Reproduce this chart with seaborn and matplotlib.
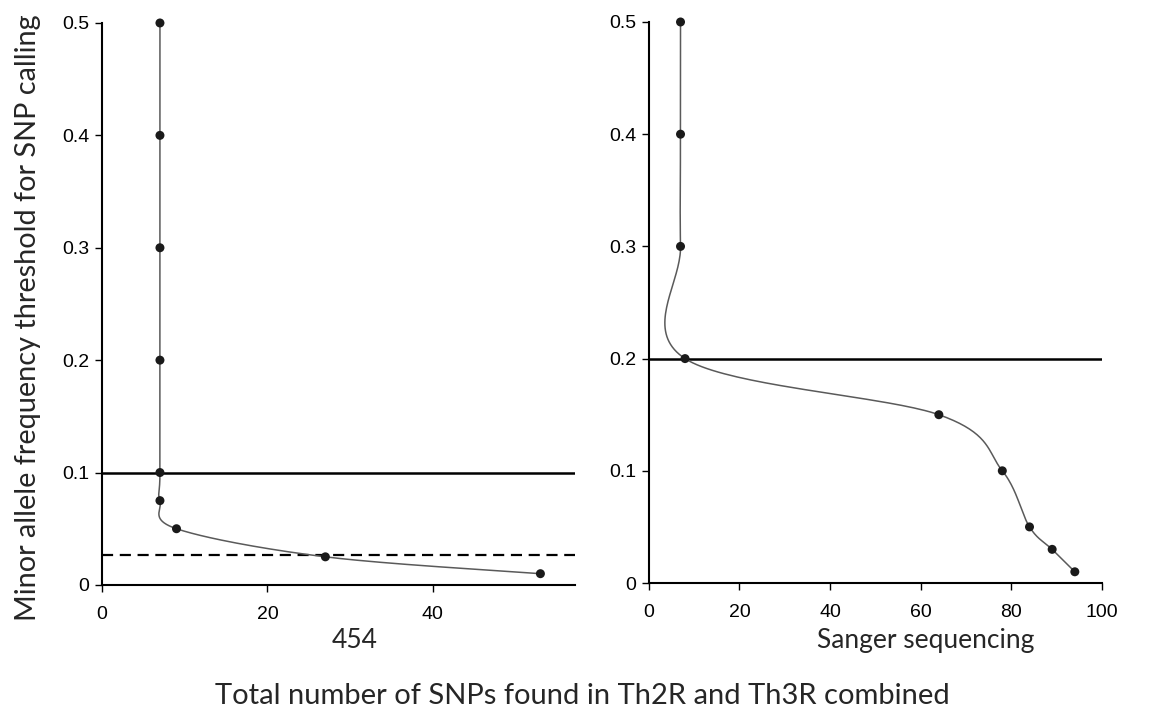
import numpy as np
import matplotlib
matplotlib.use("Agg")
import matplotlib.pyplot as plt
import seaborn as sns

# ---- data ----
left_x = [7, 7, 7, 7, 7, 7, 9, 27, 53]
left_y = [0.5, 0.4, 0.3, 0.2, 0.1, 0.075, 0.05, 0.025, 0.01]
left_hlines = [0.1]
left_dashed = [0.027]
right_x = [7, 7, 7, 8, 64, 78, 84, 89, 94]
right_y = [0.5, 0.4, 0.3, 0.2, 0.15, 0.1, 0.05, 0.03, 0.01]
right_hlines = [0.2]
yticks = [0, 0.1, 0.2, 0.3, 0.4, 0.5]
ytick_labels = ["0", "0.1", "0.2", "0.3", "0.4", "0.5"]
left_xticks = [0, 20, 40]
right_xticks = [0, 20, 40, 60, 80, 100]
left_sub = "454"
right_sub = "Sanger sequencing"
ylabel = "Minor allele frequency threshold for SNP calling"
xlabel = "Total number of SNPs found in Th2R and Th3R combined"

sns.set_style("ticks")
plt.rcParams['font.family'] = ['Liberation Sans', 'DejaVu Sans']

fig = plt.figure(figsize=(11.69, 7.09), dpi=100)
axL = fig.add_axes([0.0873, 0.175, 0.4047, 0.7926])
axR = fig.add_axes([0.555, 0.1777, 0.3877, 0.7913])


def smooth(ax, xs, ys, n=40):
    pts = ax.transData.transform(np.column_stack([xs, ys]))
    out = [pts[0]]
    m = len(pts)
    for i in range(m - 1):
        p0 = pts[i - 1] if i > 0 else pts[i]
        p1 = pts[i]
        p2 = pts[i + 1]
        p3 = pts[i + 2] if i + 2 < m else pts[i + 1]
        c1 = p1 + (p2 - p0) / 6.0
        c2 = p2 - (p3 - p1) / 6.0
        t = np.linspace(0, 1, n)[1:, None]
        seg = ((1 - t) ** 3) * p1 + 3 * ((1 - t) ** 2) * t * c1 + 3 * (1 - t) * t ** 2 * c2 + t ** 3 * p2
        out.extend(seg)
    out = np.array(out)
    return ax.transData.inverted().transform(out)


def style(ax, xlim, xticks):
    ax.set_xlim(*xlim)
    ax.set_ylim(0, 0.5)
    ax.set_yticks(yticks)
    ax.set_yticklabels(ytick_labels)
    ax.set_xticks(xticks)
    ax.set_xticklabels([str(v) for v in xticks])
    for s in ["top", "right"]:
        ax.spines[s].set_visible(False)
    for s in ["left", "bottom"]:
        ax.spines[s].set_linewidth(1.5)
        ax.spines[s].set_color("black")
    ax.tick_params(axis="both", direction="out", length=5, width=1.0, colors="black",
                   labelsize=14)
    ax.tick_params(axis="x", pad=10)
    ax.tick_params(axis="y", pad=4)


style(axL, (0, 57.2), left_xticks)
style(axR, (0, 100), right_xticks)

for ax, xs, ys in [(axL, left_x, left_y), (axR, right_x, right_y)]:
    c = smooth(ax, xs, ys)
    sns.lineplot(x=c[:, 0], y=c[:, 1], ax=ax, sort=False, estimator=None,
                 color="#5a5a5a", linewidth=1.1, zorder=3)
    sns.scatterplot(x=xs, y=ys, ax=ax, color="#1a1a1a", s=42, edgecolor="none",
                    zorder=4, clip_on=False)

for h in left_hlines:
    axL.axhline(h, color="black", linewidth=1.8, zorder=2)
for h in left_dashed:
    axL.axhline(h, color="black", linewidth=1.6, linestyle=(0, (5, 3)), zorder=2)
for h in right_hlines:
    axR.axhline(h, color="black", linewidth=1.8, zorder=2)

tfont = ['Lato', 'DejaVu Sans']
fig.text(0.024, 0.552, ylabel, rotation=90, ha="center", va="center", fontsize=20.8, family=tfont)
fig.text(0.303, 0.086, left_sub, ha="center", va="baseline", fontsize=19, family=tfont)
fig.text(0.792, 0.086, right_sub, ha="center", va="baseline", fontsize=19, family=tfont)
fig.text(0.498, 0.007, xlabel, ha="center", va="baseline", fontsize=21, family=tfont)

fig.savefig("out.png", dpi=100)
